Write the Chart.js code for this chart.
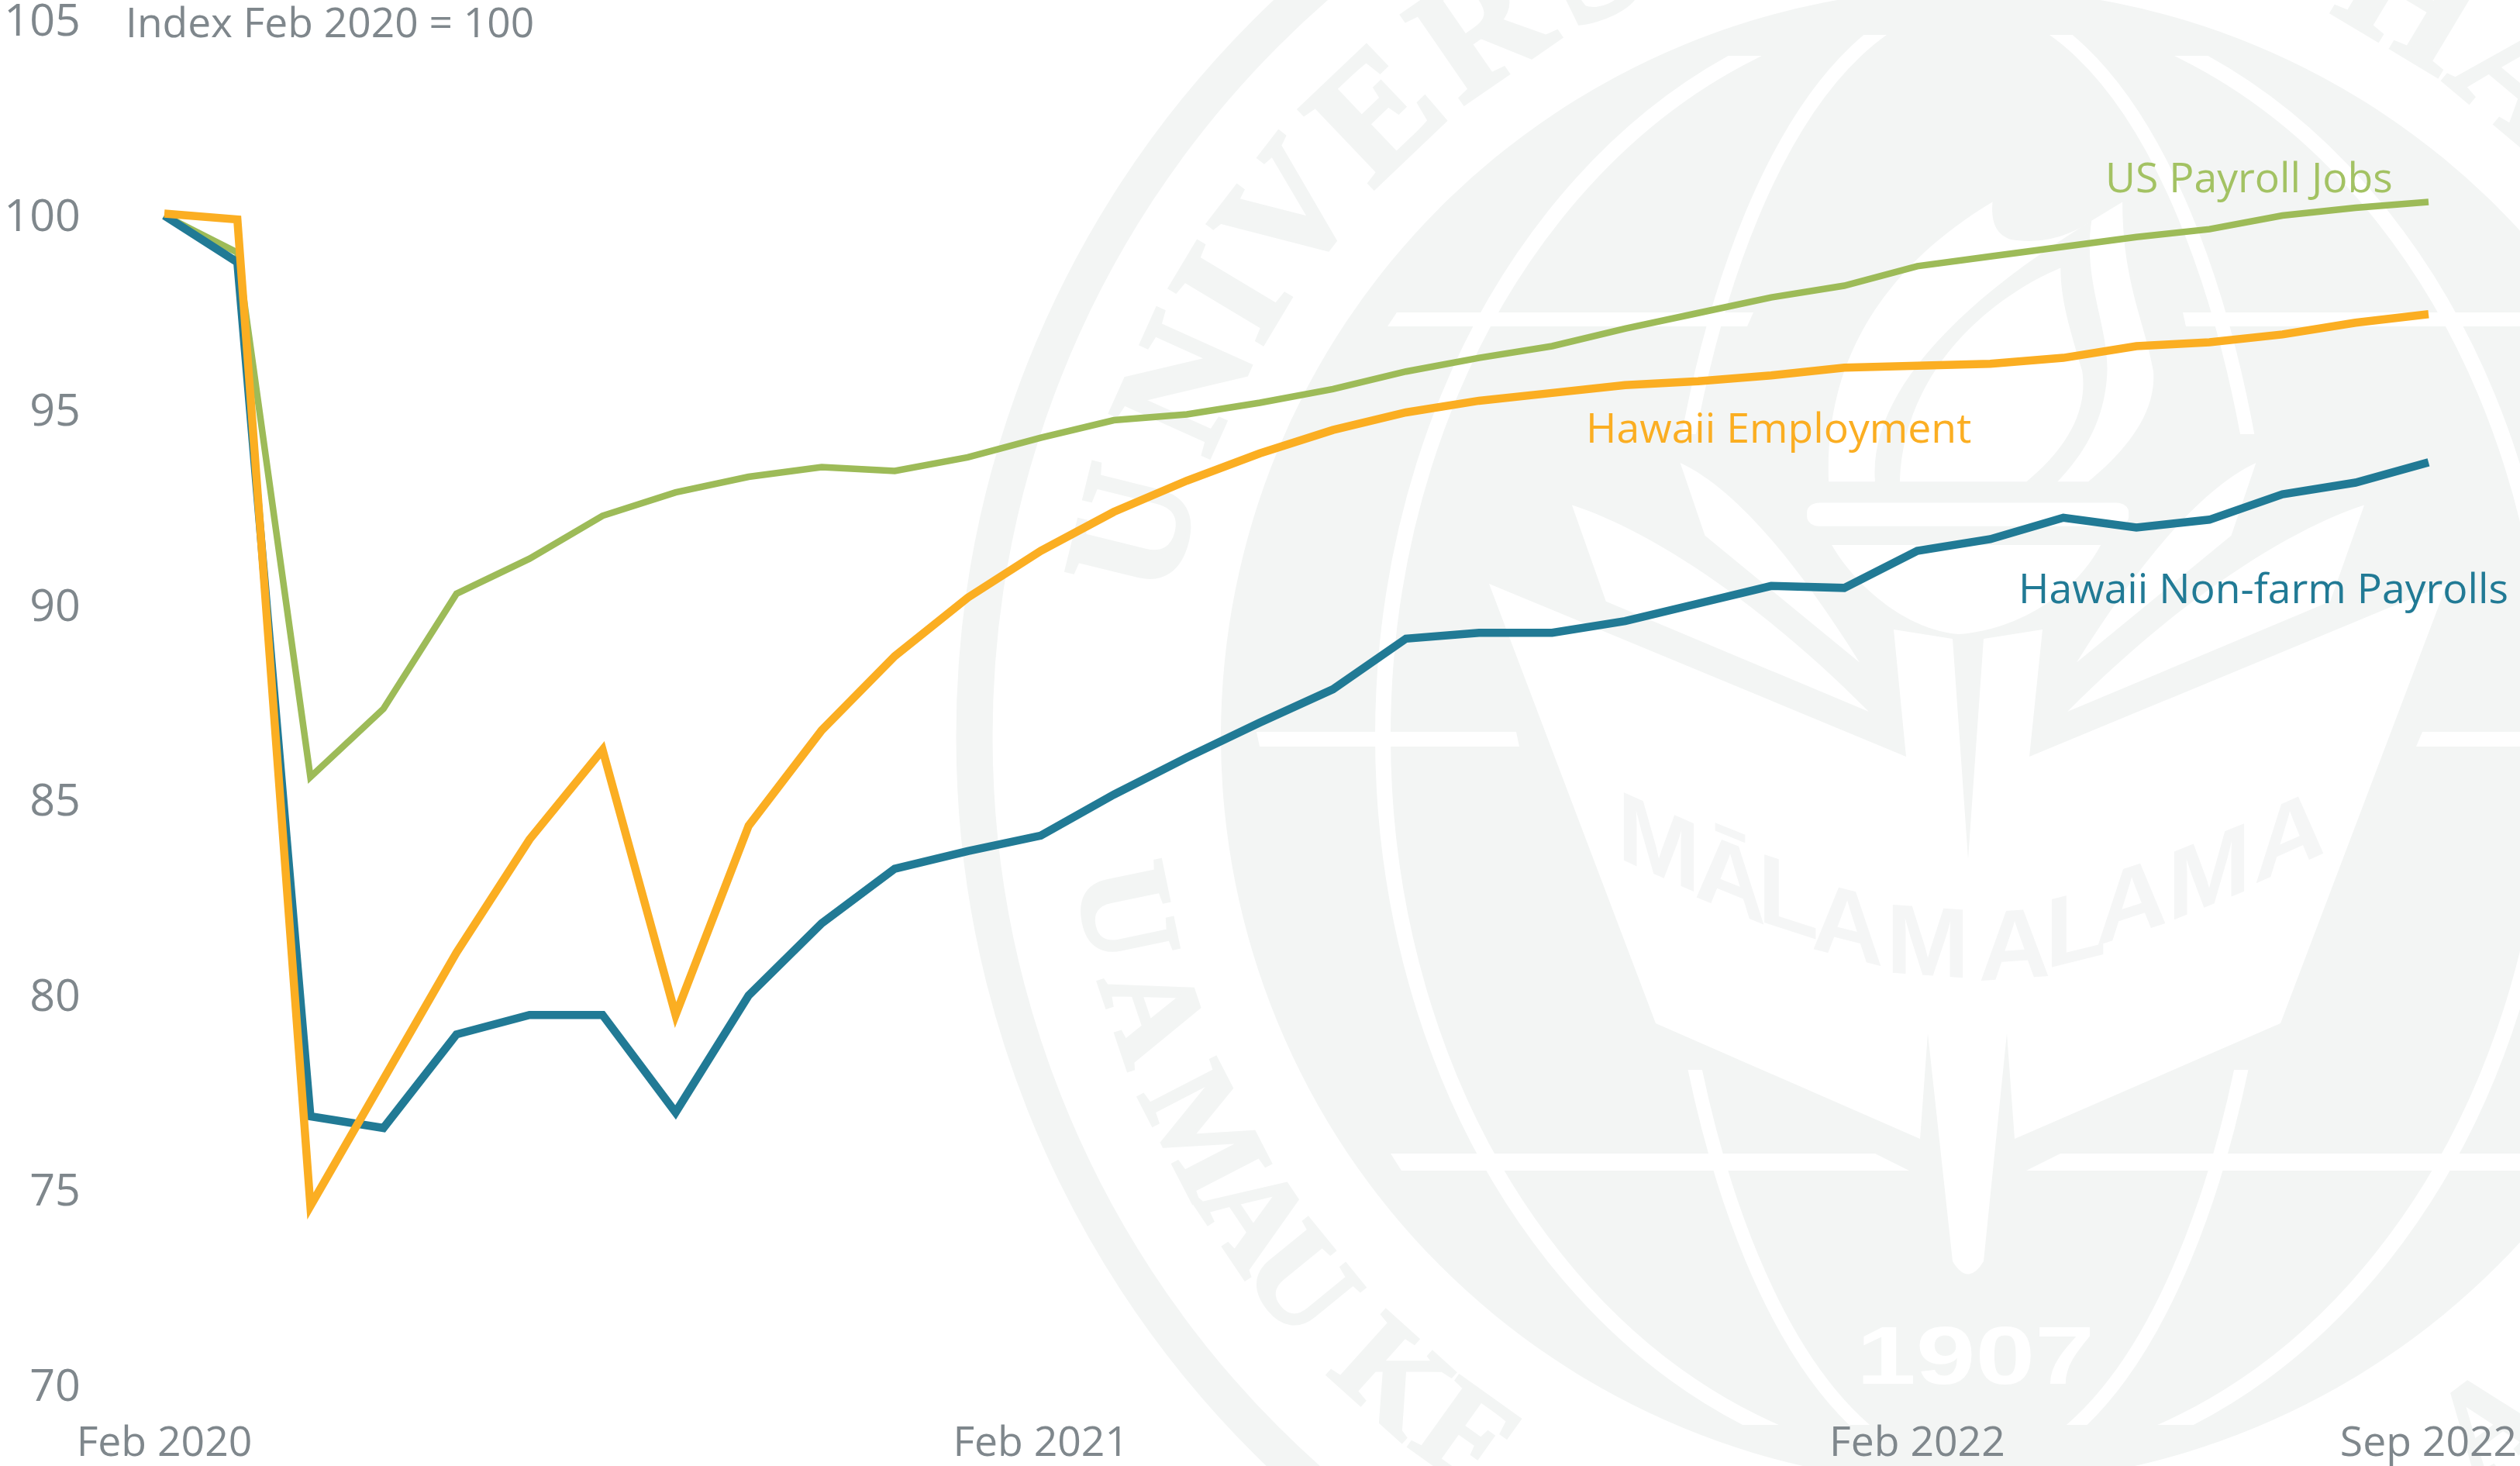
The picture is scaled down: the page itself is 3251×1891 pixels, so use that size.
<!DOCTYPE html>
<html>
<head>
<meta charset="utf-8">
<script src="https://cdn.jsdelivr.net/npm/chart.js@4"></script>
<style>
html,body{margin:0;padding:0;background:#fff;width:3251px;height:1891px;overflow:hidden}
#seal,#c{position:absolute;left:0;top:0}
</style>
</head>
<body>
<svg id="seal" width="3251" height="1891" viewBox="0 0 3251 1891" xmlns="http://www.w3.org/2000/svg">
  <defs>
    <clipPath id="outerClip"><rect x="0" y="72" width="3251" height="1766"/></clipPath>
    <clipPath id="innerClip"><rect x="0" y="45" width="3251" height="515"/><rect x="0" y="1380" width="3251" height="458"/></clipPath>
    <g id="halfSeal">
      <g transform="translate(2000,0) scale(0.798,0.606)" fill="#fff">
        <path d="M210,985 C300,1040 400,1200 500,1410 L250,1140 Z"/>
        <path d="M35,1075 C120,1110 300,1230 515,1515 L90,1280 Z"/>
      </g>
    </g>
  </defs>
  <circle cx="2540" cy="950" r="1283" fill="none" stroke="#F3F5F4" stroke-width="47"/>
  <circle cx="2540" cy="950" r="965" fill="#F3F5F4"/>
  <g id="ringTop" fill="#F3F5F4" stroke="#F3F5F4" stroke-width="6" font-family="Liberation Serif" font-weight="700" font-size="212" text-anchor="middle"></g>
  <g id="ringBottom" fill="#F3F5F4" stroke="#F3F5F4" stroke-width="5" font-family="Liberation Serif" font-weight="700" font-size="170" text-anchor="middle"></g>
  <ellipse cx="2539" cy="950" rx="755" ry="950" fill="none" stroke="#fff" stroke-width="20" clip-path="url(#outerClip)"/>
  <ellipse cx="2539" cy="950" rx="395" ry="950" fill="none" stroke="#fff" stroke-width="18" clip-path="url(#innerClip)"/>
  <g fill="#fff">
    <polygon points="1790,421 1802,403 2262,403 2254,421"/>
    <polygon points="2816,403 3251,403 3251,421 2820,421"/>
    <polygon points="1621,944 1956,944 1960,963 1625,963"/>
    <polygon points="3125,944 3251,944 3251,963 3117,963"/>
    <polygon points="1794,1488 2419,1488 2463,1510 1808,1510"/>
    <polygon points="2658,1488 3251,1488 3251,1510 2614,1510"/>
    <path d="M1921,753 L2459,976 L2443,812 L2519,824 L2539,1108 L2559,824 L2635,812 L2618,976 L3157,753 L2942,1320 L2599,1469 L2589,1333 L2559,1627 Q2539,1660 2519,1627 L2487,1333 L2477,1469 L2136,1320 Z"/>
    <g transform="translate(2000,0) scale(0.798,0.606)">
      <path d="M715,430 C600,520 440,700 450,1025 L525,1025 C515,850 640,660 875,470 C820,520 770,515 745,510 C720,500 712,470 715,430 Z"/>
      <path d="M825,570 C700,640 570,800 565,1025 L770,1025 C830,960 870,880 860,790 C840,700 825,640 825,570 Z"/>
      <path d="M875,470 C860,600 905,700 900,800 C895,900 860,970 820,1025 L870,1025 C930,960 980,880 975,790 C960,680 925,600 925,430 Z"/>
      <rect x="415" y="1070" width="520" height="50" rx="20"/>
      <path d="M455,1160 L890,1160 C850,1260 760,1340 660,1350 C570,1340 490,1240 455,1160 Z"/>
    </g>
  </g>
  <use href="#halfSeal"/>
  <use href="#halfSeal" transform="translate(5078,0) scale(-1,1)"/>
  <g id="motto" fill="#F5F6F6" font-family="Liberation Sans" font-weight="700" font-size="150" text-anchor="middle"></g>
  <text x="2395" y="1785" fill="#fff" font-family="Liberation Sans" font-weight="700" font-size="105" textLength="307" lengthAdjust="spacingAndGlyphs">1907</text>
</svg>
<canvas id="c" width="3251" height="1891" style="width:3251px;height:1891px"></canvas>
<script>
// ---- chart data ----
const months = ["Feb 2020","Mar 2020","Apr 2020","May 2020","Jun 2020","Jul 2020","Aug 2020","Sep 2020","Oct 2020","Nov 2020","Dec 2020","Jan 2021",
  "Feb 2021","Mar 2021","Apr 2021","May 2021","Jun 2021","Jul 2021","Aug 2021","Sep 2021","Oct 2021","Nov 2021","Dec 2021","Jan 2022",
  "Feb 2022","Mar 2022","Apr 2022","May 2022","Jun 2022","Jul 2022","Aug 2022","Sep 2022"];
const shownMonths = ["Feb 2020","Feb 2021","Feb 2022","Sep 2022"];
const usPayrollJobs = [100,99.05,85.6,87.35,90.3,91.2,92.3,92.9,93.3,93.55,93.45,93.8,94.3,94.75,94.9,95.2,95.55,96.0,96.35,96.65,97.1,97.5,97.9,98.2,98.7,98.95,99.2,99.45,99.65,100,100.2,100.35];
const hawaiiEmployment = [100.05,99.9,74.6,77.85,81.1,84.0,86.3,79.5,84.35,86.8,88.7,90.2,91.4,92.4,93.2,93.9,94.5,94.95,95.25,95.45,95.65,95.75,95.9,96.1,96.15,96.2,96.35,96.65,96.75,96.95,97.25,97.47];
const hawaiiNonFarm = [100,98.8,76.9,76.6,79.0,79.5,79.5,77.0,80.0,81.85,83.25,83.7,84.1,85.15,86.1,87.0,87.85,89.15,89.3,89.3,89.6,90.05,90.5,90.45,91.4,91.7,92.25,92.0,92.2,92.85,93.15,93.67];
const axisNote = "Index Feb 2020 = 100";

// ---- seal lettering (background watermark) ----
const ringTopLetters = "UNIVERSITYOFHA".split("");
const ringTopAngles = [-76.1,-65.8,-59,-52.4,-43.6,-34.6,-26,-20,-13.5,-5,8,18,31,40];
const ringBottomLetters = "UAMAUKEA".split("");
const ringBottomAngles = [78.2,71.3,62.7,56.1,50.8,42,35.6,-37];
const mottoLetters = "MĀLAMALAMA".split("");
const mottoX = [2140,2232,2307,2383,2487,2599,2678,2750,2850,2954];
const mottoY = [1130,1175,1200,1235,1258,1262,1240,1205,1168,1120];
const mottoSkew = [24,22,18,14,4,-4,-14,-18,-22,-24];
const NS = "http://www.w3.org/2000/svg";
function addGlyph(parent, ch, transform){
  const t = document.createElementNS(NS,"text");
  t.setAttribute("transform",transform);
  t.textContent = ch;
  parent.appendChild(t);
}
ringTopLetters.forEach((ch,i)=>addGlyph(document.getElementById("ringTop"),ch,`translate(2540,950) rotate(${ringTopAngles[i]}) translate(0,-1042)`));
ringBottomLetters.forEach((ch,i)=>addGlyph(document.getElementById("ringBottom"),ch,`translate(2540,950) rotate(${ringBottomAngles[i]}) translate(0,1165)`));
mottoLetters.forEach((ch,i)=>addGlyph(document.getElementById("motto"),ch,`translate(${mottoX[i]},${mottoY[i]}) skewY(${mottoSkew[i]}) scale(.86,.85)`));

// ---- chart ----
const FONT = "'Open Sans'";
const GREY = "#7F878C";
const GREEN = "#9DBB58";
const ORANGE = "#FBAE22";
const TEAL = "#217A95";

const annotations = {
  id:"annotations",
  beforeDraw(chart){
    // nudge the library's own value labels onto the reference's optical centre
    chart.scales.y.getLabelItems().forEach(item=>{
      const t = item.options.translation;
      item.options.translation = [t[0], t[1]+3.5];
    });
  },
  afterDraw(chart){
    const ctx = chart.ctx;
    ctx.save();
    ctx.textAlign = "left";
    ctx.textBaseline = "alphabetic";
    ctx.font = `400 53.3px ${FONT}`;
    ctx.fillStyle = GREY;
    ctx.fillText(axisNote,162,48);
    ctx.font = `400 53.5px ${FONT}`;
    ctx.fillStyle = "#A3C263";
    ctx.fillText("US Payroll Jobs",2716,248);
    ctx.fillStyle = ORANGE;
    ctx.fillText("Hawaii Employment",2046,571);
    ctx.fillStyle = TEAL;
    ctx.fillText("Hawaii Non-farm Payrolls",2604,778);
    ctx.restore();
  }
};

const common = {fill:false,pointRadius:0,tension:0,borderCapStyle:"butt",borderJoinStyle:"miter",clip:false};
new Chart(document.getElementById("c"),{
  type:"line",
  data:{
    labels:months,
    datasets:[
      {...common,label:"US Payroll Jobs",data:usPayrollJobs,borderColor:GREEN,borderWidth:8.5,order:3},
      {...common,label:"Hawaii Non-farm Payrolls",data:hawaiiNonFarm,borderColor:TEAL,borderWidth:10.5,order:2},
      {...common,label:"Hawaii Employment",data:hawaiiEmployment,borderColor:ORANGE,borderWidth:10.5,order:1}
    ]
  },
  plugins:[annotations],
  options:{
    responsive:false,
    animation:false,
    events:[],
    layout:{padding:{top:26.5,right:118,bottom:0,left:0}},
    plugins:{legend:{display:false},title:{display:false},tooltip:{enabled:false}},
    scales:{
      x:{
        type:"category",
        offset:false,
        grid:{display:false,drawTicks:false},
        border:{display:false},
        afterFit(s){s.height=104;s.paddingLeft=0;s.paddingRight=0;},
        ticks:{
          autoSkip:false,maxRotation:0,minRotation:0,padding:44,color:GREY,
          font:{family:"Open Sans",size:53.5,weight:"400"},
          callback(v){const l=this.getLabelForValue(v);return shownMonths.includes(l)?l:"";}
        }
      },
      y:{
        min:70,max:105,
        grid:{display:false,drawTicks:false},
        border:{display:false},
        afterFit(s){s.width=212;s.paddingTop=0;s.paddingBottom=0;},
        ticks:{stepSize:5,padding:108,color:GREY,font:{family:"Open Sans",size:57.5,weight:"400"}}
      }
    }
  }
});
</script>
</body>
</html>
